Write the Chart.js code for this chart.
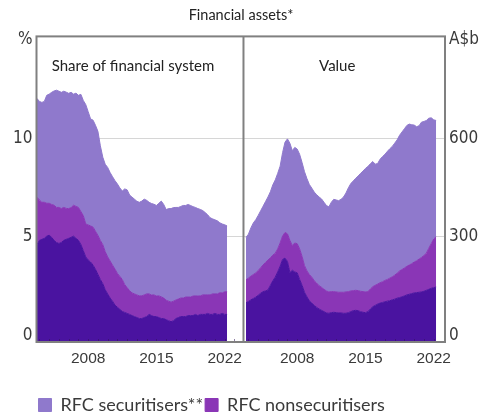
<!DOCTYPE html>
<html><head><meta charset="utf-8">
<script src="https://cdn.jsdelivr.net/npm/chart.js@4/dist/chart.umd.min.js"></script>
<style>html,body{margin:0;padding:0;background:#fff}#wrap{width:482px;height:413px;position:relative}</style>
</head><body><div id="wrap"><canvas id="c" width="482" height="413"></canvas></div>
<script>
// Quarterly observation dates (decimal years)
const quarters = [2002.75,2003.0,2003.25,2003.5,2003.75,2004.0,2004.25,2004.5,2004.75,2005.0,
2005.25,2005.5,2005.75,2006.0,2006.25,2006.5,2006.75,2007.0,2007.25,2007.5,
2007.75,2008.0,2008.25,2008.5,2008.75,2009.0,2009.25,2009.5,2009.75,2010.0,
2010.25,2010.5,2010.75,2011.0,2011.25,2011.5,2011.75,2012.0,2012.25,2012.5,
2012.75,2013.0,2013.25,2013.5,2013.75,2014.0,2014.25,2014.5,2014.75,2015.0,
2015.25,2015.5,2015.75,2016.0,2016.25,2016.5,2016.75,2017.0,2017.25,2017.5,
2017.75,2018.0,2018.25,2018.5,2018.75,2019.0,2019.25,2019.5,2019.75,2020.0,
2020.25,2020.5,2020.75,2021.0,2021.25,2021.5,2021.75,2022.0,2022.25];

// Left panel: share of financial system, %
const shareOther = [4.61,4.82,4.87,4.92,5.03,5.08,4.97,4.82,4.71,4.66,
4.71,4.82,4.87,4.92,4.97,5.03,4.92,4.82,4.61,4.29,
3.98,3.82,3.72,3.56,3.35,3.09,2.83,2.62,2.31,2.10,
1.89,1.73,1.53,1.42,1.32,1.21,1.16,1.11,1.06,1.00,
0.95,0.90,0.85,0.85,0.90,0.95,1.06,1.00,0.95,0.95,
0.90,0.85,0.85,0.79,0.74,0.69,0.74,0.85,0.90,0.95,
0.95,0.95,1.00,1.00,1.00,1.06,1.00,1.06,1.06,1.06,
1.11,1.06,1.06,1.11,1.06,1.06,1.11,1.06,1.06];
const shareNonsec = [2.40,2.04,1.88,1.83,1.67,1.62,1.67,1.78,1.78,1.83,
1.72,1.67,1.57,1.51,1.51,1.57,1.62,1.67,1.67,1.78,
1.67,1.78,1.83,1.93,1.93,1.98,1.98,1.98,1.93,1.88,
1.88,1.83,1.83,1.72,1.67,1.62,1.41,1.31,1.20,1.15,
1.15,1.15,1.15,1.15,1.15,1.15,1.04,1.04,1.10,1.04,
1.10,1.10,1.04,0.99,0.99,0.99,0.99,0.94,0.94,0.94,
0.94,0.99,0.94,0.94,0.99,0.94,0.99,0.94,0.99,0.99,
0.94,0.99,1.04,0.99,1.04,1.10,1.04,1.15,1.15];
const shareSec = [5.01,5.01,5.07,5.12,5.48,5.54,5.69,5.80,5.95,5.90,
5.90,5.90,5.90,5.85,5.85,5.64,5.75,5.69,5.95,5.85,
6.06,5.75,5.43,5.43,5.38,5.28,4.81,4.44,4.44,4.54,
4.49,4.49,4.49,4.54,4.49,4.49,4.86,4.96,4.86,4.86,
4.81,4.75,4.75,4.81,4.86,4.75,4.65,4.65,4.60,4.60,
4.70,4.86,4.75,4.60,4.70,4.75,4.75,4.70,4.65,4.65,
4.70,4.65,4.70,4.65,4.54,4.49,4.44,4.39,4.28,4.18,
4.07,3.92,3.81,3.76,3.71,3.55,3.50,3.40,3.34];

// Right panel: value, A$b
const valueOther = [99,103,108,112,116,122,128,133,135,138,
152,166,177,193,210,231,235,225,191,198,
193,190,170,152,131,117,105,98,91,85,
80,76,72,68,67,69,70,69,68,68,
67,67,69,72,75,76,75,72,70,69,
72,80,87,91,95,98,100,102,104,105,
108,110,113,115,117,120,123,125,127,129,
130,131,132,134,137,140,143,145,147];
const valueNonsec = [70,71,72,73,74,75,78,81,87,91,
84,78,73,70,71,71,78,84,98,75,
88,89,93,88,81,79,80,79,75,74,
71,70,68,67,65,64,63,63,63,63,
64,65,64,63,61,61,61,62,63,63,
61,61,61,61,61,62,63,65,66,69,
70,73,76,81,83,85,87,89,91,94,
97,101,105,109,113,125,136,148,153];
const valueSec = [129,134,147,157,162,168,173,179,185,192,
201,214,223,230,234,254,275,289,296,289,
291,288,288,286,286,281,274,271,270,269,
270,269,265,260,259,272,281,280,279,283,
290,301,316,327,334,341,349,359,367,376,
381,381,381,369,367,376,381,384,390,394,
397,402,406,413,419,424,429,429,423,417,
408,406,412,408,404,396,383,363,354];

const xTickYears = [2008, 2015, 2022];
const minorTickYears = [2003,2004,2005,2006,2007,2008,2009,2010,2011,2012,2013,2014,2015,2016,2017,2018,2019,2020,2021,2022,2023];
const shareTicks = [0, 5, 10, 15];
const valueTicks = [0, 300, 600, 900];
const seriesNames = ['Other', 'RFC nonsecuritisers', 'RFC securitisers**'];
const panelTitles = ['Share of financial system', 'Value'];

// layout of the two panels on one shared linear x axis
const XMIN = 2002.7, SPLIT = 2023.93, OFFSET = 21.44, XMAX = 2044.6;
const COLORS = ['#4a13a0', '#8a36b6', '#8f79cc'];
const TXT = '#3a3a3a';

function pts(arr, off) { return quarters.map((q, i) => ({x: q + off, y: arr[i]})); }
function ds(k, arr, off, axis, stack) {
  return {label: seriesNames[k], data: pts(arr, off), yAxisID: axis, stack: stack,
    backgroundColor: COLORS[k], borderColor: COLORS[k], borderWidth: 1,
    pointRadius: 0, pointHoverRadius: 0, fill: k === 0 ? 'start' : '-1', tension: 0};
}

const framePlugin = {
  id: 'frame',
  afterDatasetsDraw(chart) {
    const a = chart.chartArea, ctx = chart.ctx, xs = chart.scales.x;
    const sx = xs.getPixelForValue(SPLIT);
    ctx.save();
    // small year tick marks along the bottom, inside the frame
    ctx.strokeStyle = 'rgba(50,20,90,0.55)'; ctx.lineWidth = 1;
    [0, OFFSET].forEach(off => minorTickYears.forEach(yr => {
      const px = Math.round(xs.getPixelForValue(yr + off)) + 0.5;
      if (px > a.left + 2 && px < a.right - 2 && Math.abs(px - sx) > 2) {
        ctx.beginPath(); ctx.moveTo(px, a.bottom); ctx.lineTo(px, a.bottom - 3); ctx.stroke();
      }
    }));
    ctx.strokeStyle = '#808080'; ctx.lineWidth = 2;
    ctx.strokeRect(a.left, a.top, a.right - a.left, a.bottom - a.top);
    ctx.beginPath(); ctx.moveTo(sx, a.top); ctx.lineTo(sx, a.bottom); ctx.stroke();
    ctx.fillStyle = '#222';
    ctx.font = '15px Lato';
    ctx.textAlign = 'center'; ctx.textBaseline = 'middle';
    ctx.fillText(panelTitles[0], (a.left + sx) / 2 - 7, a.top + 30);
    ctx.fillText(panelTitles[1], (sx + a.right) / 2 - 7, a.top + 30);
    ctx.restore();
  }
};

const yTickFont = {family: "'Liberation Sans Narrow', 'DejaVu Sans Condensed', sans-serif", size: 17};
const gridColor = c => (c.tick && (c.tick.value === 5 || c.tick.value === 10)) ? '#d6d6d6' : 'rgba(0,0,0,0)';

new Chart(document.getElementById('c'), {
  type: 'line',
  data: {datasets: [
    ds(0, shareOther, 0, 'y', 'L'), ds(1, shareNonsec, 0, 'y', 'L'), ds(2, shareSec, 0, 'y', 'L'),
    ds(0, valueOther, OFFSET, 'y2', 'R'), ds(1, valueNonsec, OFFSET, 'y2', 'R'), ds(2, valueSec, OFFSET, 'y2', 'R')
  ]},
  options: {
    responsive: false, animation: false, events: [],
    layout: {padding: {left: 0, right: 0, top: 0, bottom: -11}},
    plugins: {
      title: {display: true, text: 'Financial assets*', color: '#222',
        font: {family: 'Lato', size: 14.5, weight: 'normal'}, padding: {top: 7, bottom: 12}},
      legend: {position: 'bottom', align: 'start', fullSize: false,
        labels: {boxWidth: 13, boxHeight: 13, padding: 2, color: TXT,
          font: {family: 'Lato', size: 18},
          filter: it => it.datasetIndex === 1 || it.datasetIndex === 2,
          sort: (a, b) => b.datasetIndex - a.datasetIndex}},
      tooltip: {enabled: false}
    },
    scales: {
      x: {type: 'linear', min: XMIN, max: XMAX,
        grid: {display: false, drawTicks: false}, border: {display: false},
        afterBuildTicks: s => { s.ticks = xTickYears.map(v => ({value: v})).concat(xTickYears.map(v => ({value: v + OFFSET}))); },
        afterFit: s => { s.height = 52; },
        ticks: {autoSkip: false, maxRotation: 0, padding: 7, color: TXT, font: {family: 'Liberation Sans', size: 15.5},
          callback: v => String(Math.round(v > SPLIT ? v - OFFSET : v))}},
      y: {position: 'left', stacked: true, min: -0.34, max: 15.17,
        grid: {color: gridColor, drawTicks: false, lineWidth: 1}, border: {display: false},
        afterBuildTicks: s => { s.ticks = shareTicks.map(v => ({value: v})); },
        afterFit: s => { s.width = 36.5; },
        ticks: {autoSkip: false, padding: 4, color: TXT, font: yTickFont, callback: v => v === 15 ? '%' : v}},
      y2: {position: 'right', stacked: true, min: -20.4, max: 910,
        grid: {display: false, drawTicks: false}, border: {display: false},
        afterBuildTicks: s => { s.ticks = valueTicks.map(v => ({value: v})); },
        afterFit: s => { s.width = 37; },
        ticks: {autoSkip: false, padding: 4, color: TXT, font: yTickFont, callback: v => v === 900 ? 'A$b' : v}}
    }
  },
  plugins: [framePlugin]
});
</script></body></html>
